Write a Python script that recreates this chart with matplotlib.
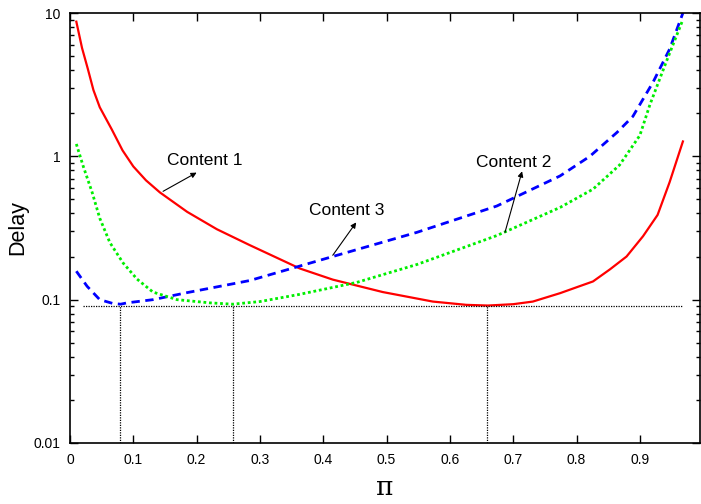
import matplotlib
matplotlib.use("Agg")
import matplotlib.pyplot as plt
from matplotlib.ticker import FixedLocator, LogLocator, NullFormatter

plt.rcParams['font.family'] = ['Liberation Sans', 'DejaVu Sans']

# Content 1 (red, solid)
x_c1 = [0.01, 0.019, 0.028, 0.037, 0.047, 0.066, 0.083, 0.1, 0.12, 0.142, 0.185, 0.232, 0.284, 0.363,
        0.415, 0.494, 0.573, 0.626, 0.66, 0.7, 0.731, 0.774, 0.8, 0.826, 0.853, 0.879, 0.905, 0.928,
        0.947, 0.968]
y_c1 = [8.7, 5.7, 4.1, 2.9, 2.2, 1.54, 1.1, 0.85, 0.68, 0.56, 0.41, 0.31, 0.24, 0.165,
        0.138, 0.113, 0.097, 0.092, 0.091, 0.093, 0.097, 0.111, 0.122, 0.134, 0.163, 0.2, 0.277, 0.39,
        0.66, 1.27]

# Content 2 (green, dotted)
x_c2 = [0.01, 0.021, 0.035, 0.047, 0.063, 0.084, 0.106, 0.131, 0.169, 0.221, 0.257, 0.3, 0.363,
        0.453, 0.548, 0.674, 0.774, 0.826, 0.868, 0.9, 0.916, 0.942, 0.968]
y_c2 = [1.22, 0.85, 0.56, 0.37, 0.25, 0.18, 0.139, 0.113, 0.1, 0.095, 0.093, 0.097, 0.109,
        0.132, 0.176, 0.28, 0.44, 0.59, 0.87, 1.4, 2.3, 4.6, 9.0]

# Content 3 (blue, dashed)
x_c3 = [0.01, 0.027, 0.047, 0.068, 0.08, 0.09, 0.131, 0.185, 0.237, 0.284, 0.415, 0.548, 0.674,
        0.774, 0.821, 0.864, 0.889, 0.921, 0.947, 0.968]
y_c3 = [0.158, 0.124, 0.1, 0.094, 0.093, 0.095, 0.1, 0.112, 0.124, 0.136, 0.2, 0.295, 0.45,
        0.73, 1.0, 1.47, 1.9, 3.3, 5.6, 10.0]

# minimum markers
min_delay = 0.091
min_x = [0.079, 0.257, 0.658]
hline_range = [0.021, 0.966]

# annotations: label, text pos, arrow tail, arrow head
labels = ["Content 1", "Content 3", "Content 2"]
text_pos = [(0.213, 0.94), (0.437, 0.42), (0.701, 0.91)]
arrow_tail = [(0.147, 0.57), (0.415, 0.204), (0.687, 0.295)]
arrow_head = [(0.2, 0.77), (0.452, 0.346), (0.714, 0.786)]

xticks = [0, 0.1, 0.2, 0.3, 0.4, 0.5, 0.6, 0.7, 0.8, 0.9]
xtick_labels = ["0", "0.1", "0.2", "0.3", "0.4", "0.5", "0.6", "0.7", "0.8", "0.9"]
yticks = [0.01, 0.1, 1, 10]
ytick_labels = ["0.01", "0.1", "1", "10"]

fig = plt.figure(figsize=(7.01, 5.04), dpi=100)
ax = fig.add_axes([70 / 701, 61 / 504, 630 / 701, 430 / 504])

ax.plot(x_c1, y_c1, color="#ff0000", lw=1.6, solid_joinstyle="round")
ax.plot(x_c3, y_c3, color="#0000ff", lw=2.0, linestyle=(0, (3, 2)))
ax.plot(x_c2, y_c2, color="#00ee00", lw=2.0, linestyle=(0, (1, 1)))

ax.hlines(min_delay, hline_range[0], hline_range[1], color="black", lw=0.9, linestyle=(0, (1, 1)))
ax.vlines(min_x, 0.01, min_delay, color="black", lw=0.9, linestyle=(0, (1, 1)))

for lab, tp, tail, head in zip(labels, text_pos, arrow_tail, arrow_head):
    ax.annotate("", xy=head, xytext=tail,
                arrowprops=dict(arrowstyle="-|>", color="black", lw=0.8, mutation_scale=8,
                                shrinkA=0, shrinkB=0))
    ax.text(tp[0], tp[1], lab, fontsize=12.5, ha="center", va="center")

ax.set_yscale("log")
ax.set_xlim(0, 0.995)
ax.set_ylim(0.01, 10)

ax.xaxis.set_major_locator(FixedLocator(xticks))
ax.set_xticklabels(xtick_labels)
ax.yaxis.set_major_locator(FixedLocator(yticks))
ax.set_yticklabels(ytick_labels)
ax.yaxis.set_minor_locator(LogLocator(base=10, subs=range(2, 10)))
ax.yaxis.set_minor_formatter(NullFormatter())

ax.tick_params(which="both", direction="in", top=True, right=True, labelsize=10, pad=7)
ax.tick_params(which="major", length=6, width=1)
ax.tick_params(which="minor", length=3, width=1)
for s in ax.spines.values():
    s.set_linewidth(1.2)

ax.set_ylabel("Delay", fontsize=15.5, labelpad=4)
ax.set_xlabel("π", fontsize=19, family=["DejaVu Serif"], labelpad=6)

fig.savefig("out.png", dpi=100)
